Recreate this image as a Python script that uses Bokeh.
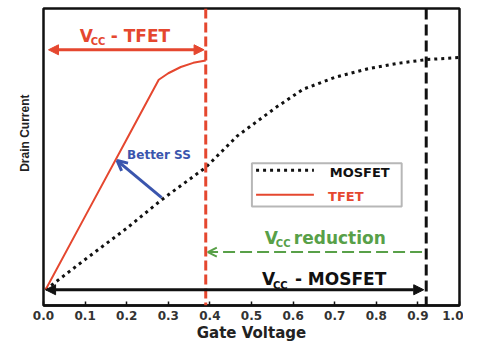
from bokeh.plotting import figure
from bokeh.models import Span, Arrow, NormalHead, OpenHead, Label, BoxAnnotation, FixedTicker, Title
from bokeh.embed import file_html
from bokeh.resources import INLINE

# ---- data ----
tfet_x = [0.005, 0.10, 0.20, 0.277, 0.30, 0.33, 0.36, 0.39]
tfet_y = [0.053, 0.30, 0.56, 0.76, 0.782, 0.803, 0.817, 0.825]
mos_x = [0.005, 0.10, 0.20, 0.284, 0.39, 0.466, 0.56, 0.624, 0.70, 0.78, 0.85, 0.92, 1.0]
mos_y = [0.053, 0.155, 0.26, 0.356, 0.465, 0.571, 0.668, 0.728, 0.768, 0.797, 0.815, 0.828, 0.835]
tick_vals = [0.0, 0.1, 0.2, 0.3, 0.4, 0.5, 0.6, 0.7, 0.8, 0.9, 1.0]
tick_labels = ["0.0", "0.1", "0.2", "0.3", "0.4", "0.5", "0.6", "0.7", "0.8", "0.9", "1.0"]
vcc_tfet = 0.39
vcc_mosfet = 0.92
series_names = ["MOSFET", "TFET"]

RED = "#e5472f"
GREEN = "#58a048"
BLUE = "#3a55ad"
BLACK = "#111111"
FONT = "DejaVu Sans"

p = figure(width=463, height=344, x_range=(0, 1), y_range=(0, 1),
           output_backend="svg", toolbar_location=None, y_axis_location=None,
           min_border_left=43, min_border_right=4, min_border_top=8, min_border_bottom=38)
p.background_fill_color = "white"
p.border_fill_color = "white"
p.outline_line_color = BLACK
p.outline_line_width = 2.5
p.xgrid.visible = False
p.ygrid.visible = False

ax = p.xaxis[0]
ax.ticker = FixedTicker(ticks=tick_vals)
ax.major_label_overrides = {v: l for v, l in zip(tick_vals, tick_labels)}
ax.major_tick_in = 4
ax.major_tick_out = 0
ax.minor_tick_line_color = None
ax.major_tick_line_color = BLACK
ax.major_tick_line_width = 1.5
ax.axis_line_color = BLACK
ax.axis_line_width = 2.5
ax.major_label_text_font = FONT
ax.major_label_text_font_style = "bold"
ax.major_label_text_font_size = "12px"
ax.major_label_text_color = "#333333"
ax.major_label_standoff = 5
ax.axis_label = "Gate Voltage"
ax.axis_label_text_font = FONT
ax.axis_label_text_font_style = "bold"
ax.axis_label_text_font_size = "15px"
ax.axis_label_text_color = "#222222"
ax.axis_label_standoff = 1

p.add_layout(Title(text="Drain Current", align="right", offset=86, standoff=24,
                   text_font="Liberation Sans", text_font_style="bold",
                   text_font_size="12px", text_color="#222222"), "left")

# curves
p.line(mos_x, mos_y, line_color=BLACK, line_width=3, line_dash="3 4")
p.line(tfet_x, tfet_y, line_color=RED, line_width=2)

# vertical dashed markers
p.add_layout(Span(location=vcc_tfet, dimension="height", line_color=RED, line_width=3, line_dash="10 4"))
p.add_layout(Span(location=vcc_mosfet, dimension="height", line_color=BLACK, line_width=3, line_dash="11 5"))

# arrows
y_top_arrow = 0.861
y_bot_arrow = 0.053
y_green_arrow = 0.18
p.add_layout(Arrow(x_start=0.012, y_start=y_top_arrow, x_end=vcc_tfet - 0.004, y_end=y_top_arrow,
                   line_color=RED, line_width=3,
                   start=NormalHead(size=10, fill_color=RED, line_color=RED),
                   end=NormalHead(size=10, fill_color=RED, line_color=RED)))
p.add_layout(Arrow(x_start=0.005, y_start=y_bot_arrow, x_end=vcc_mosfet - 0.006, y_end=y_bot_arrow,
                   line_color=BLACK, line_width=3,
                   start=NormalHead(size=10, fill_color=BLACK, line_color=BLACK),
                   end=NormalHead(size=10, fill_color=BLACK, line_color=BLACK)))
p.add_layout(Arrow(x_start=vcc_mosfet - 0.01, y_start=y_green_arrow, x_end=vcc_tfet + 0.005, y_end=y_green_arrow,
                   line_color=GREEN, line_width=2, line_dash="12 5",
                   end=OpenHead(size=9, line_color=GREEN, line_width=2)))
p.add_layout(Arrow(x_start=0.284, y_start=0.363, x_end=0.177, y_end=0.488,
                   line_color=BLUE, line_width=3,
                   end=OpenHead(size=10, line_color=BLUE, line_width=3)))


def vcc_label(x, y, rest, color, gap):
    p.add_layout(Label(x=x, y=y, text="V", text_font=FONT, text_font_style="bold",
                       text_font_size="17px", text_color=color, text_baseline="alphabetic"))
    p.add_layout(Label(x=x, y=y, x_offset=11, y_offset=-6, text="CC", text_font=FONT,
                       text_font_style="bold", text_font_size="10px", text_color=color,
                       text_baseline="alphabetic"))
    p.add_layout(Label(x=x, y=y, x_offset=gap, text=rest, text_font=FONT, text_font_style="bold",
                       text_font_size="17px", text_color=color, text_baseline="alphabetic"))


vcc_label(0.087, 0.908, "- TFET", RED, 31)
vcc_label(0.525, 0.089, "- MOSFET", BLACK, 33)
vcc_label(0.532, 0.228, "reduction", GREEN, 29)

p.add_layout(Label(x=0.201, y=0.508, text="Better SS", text_font=FONT, text_font_style="bold",
                   text_font_size="12px", text_color=BLUE, text_baseline="middle"))

# legend (drawn by hand so that each label has its own colour)
p.add_layout(BoxAnnotation(left=0.501, right=0.861, bottom=0.333, top=0.479,
                           fill_color=None, line_color=BLACK, line_width=2))
p.line([0.511, 0.650], [0.455, 0.455], line_color=BLACK, line_width=3, line_dash="3 4")
p.line([0.511, 0.650], [0.373, 0.373], line_color=RED, line_width=2)
p.add_layout(Label(x=0.688, y=0.447, text=series_names[0], text_font=FONT, text_font_style="bold",
                   text_font_size="13px", text_color=BLACK, text_baseline="middle"))
p.add_layout(Label(x=0.684, y=0.366, text=series_names[1], text_font=FONT, text_font_style="bold",
                   text_font_size="13px", text_color=RED, text_baseline="middle"))

open("out.html", "w").write(file_html(p, INLINE))
